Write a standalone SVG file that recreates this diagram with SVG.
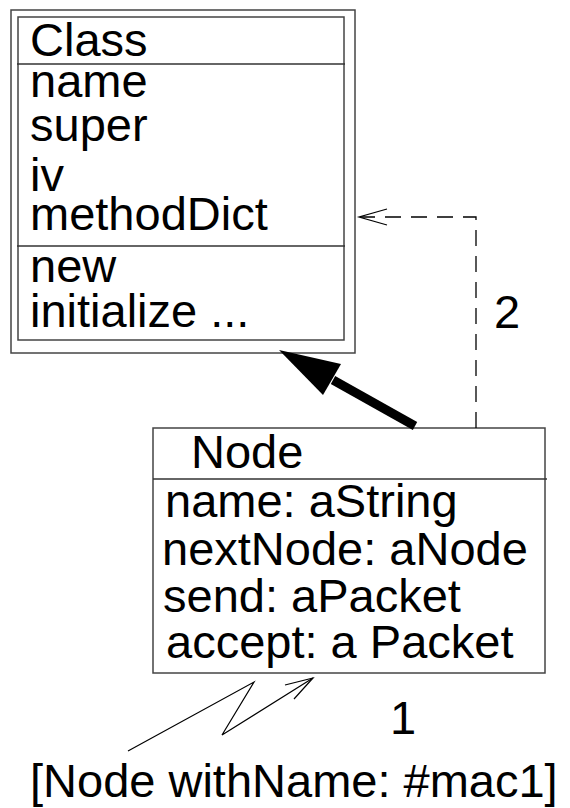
<svg xmlns="http://www.w3.org/2000/svg" width="570" height="808" viewBox="0 0 570 808">
<style>
text{font-family:"Liberation Sans",Arial,sans-serif;font-size:47px;fill:#000}
.box{fill:none;stroke:#444;stroke-width:1.5}
.ln{stroke:#333;stroke-width:1.3}
.thin{fill:none;stroke:#000;stroke-width:1.2}
.dash{fill:none;stroke:#000;stroke-width:1.3;stroke-dasharray:16 10}
</style>
<rect width="570" height="808" fill="#fff"/>
<g id="class">
<rect class="box" x="11" y="10" width="344" height="343"/>
<rect class="box" x="18" y="17" width="326" height="323"/>
<line class="ln" x1="17" y1="64" x2="345" y2="64"/>
<line class="ln" x1="17" y1="246" x2="345" y2="246"/>
<text x="30" y="56">Class</text>
<text x="30" y="97">name</text>
<text x="30" y="141">super</text>
<text x="30" y="191">iv</text>
<text x="30" y="230">methodDict</text>
<text x="30" y="282">new</text>
<text x="30" y="327">initialize ...</text>
</g>
<g id="node">
<rect class="box" x="153" y="428" width="392" height="245"/>
<line class="ln" x1="153" y1="479" x2="547" y2="479"/>
<text x="191" y="468">Node</text>
<text x="165" y="517">name: aString</text>
<text x="162" y="565">nextNode: aNode</text>
<text x="163" y="612">send: aPacket</text>
<text x="166" y="658">accept: a Packet</text>
</g>
<g id="connectors">
<polyline class="dash" points="476,428 476,217 360,217"/>
<polyline class="thin" points="387,209 359,217 387,225"/>
<line x1="415" y1="426" x2="333" y2="380" stroke="#000" stroke-width="9"/>
<polygon points="279,350 341,364 323,395" fill="#000"/>
<polyline class="thin" points="128,751 254,682 222,735 313,678"/>
<polyline class="thin" points="285,685 313,678 294,699"/>
</g>
<g id="labels">
<text x="494" y="328">2</text>
<text x="390" y="734">1</text>
<text x="30" y="797">[Node withName: #mac1]</text>
</g>
</svg>
